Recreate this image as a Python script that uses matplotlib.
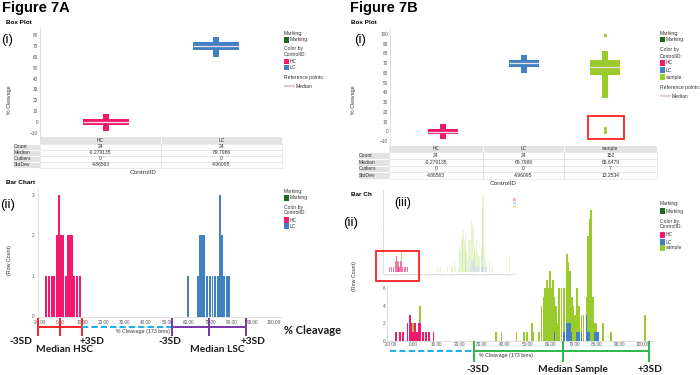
import matplotlib
matplotlib.use('Agg')
import matplotlib.pyplot as plt
from matplotlib.patches import Rectangle
from matplotlib.colors import to_rgba

plt.rcParams['font.family'] = ['Liberation Sans', 'DejaVu Sans']

# ---------------- data ----------------
categories_a = ['HC', 'LC']
categories_b = ['HC', 'LC', 'sample']
box_q1 = [-2.6, 65.8, 58.0]
box_med = [-0.279135, 69.7986, 65.6479]
box_q3 = [2.8, 73.8, 73.5]
box_lo = [-8.3, 59.6, 34.7]
box_hi = [7.8, 78.2, 83.0]
sample_outliers = [99.4, 99.4, 99.4, 3.8, 3.1, 0.6, -0.2]

table_rows = ['Count', 'Median', 'Outliers', 'StdDev']
table_hc = ['24', '-0.279135', '0', '4.86563']
table_lc = ['24', '69.7986', '0', '4.96095']
table_sample = ['152', '65.6479', '7', '13.2534']

x_ticks = [-10, 0, 10, 20, 30, 40, 50, 60, 70, 80, 90, 100]

# Figure 7A bar chart (bin centre, row count)
hc_a_x = [-7.0, -5.45, -3.9, -2.95, -1.85, -0.6, 0.17, 1.25, 2.4, 3.6, 4.4, 5.2, 6.25, 7.5, 9.1]
hc_a_n = [1, 1, 1, 1, 2, 3, 2, 2, 1, 2, 2, 2, 1, 1, 1]
lc_a_x = [59.8, 64.5, 65.3, 66.4, 67.3, 68.4, 70.0, 71.1, 72.3, 73.9, 74.7, 75.5, 76.6, 77.8, 78.7]
lc_a_n = [1, 1, 2, 2, 2, 1, 1, 1, 1, 1, 3, 2, 1, 1, 1]

# Figure 7B bar chart
hc_b_x = [-7.5, -5.7, -4.2, -2.4, -1.45, -0.7, 0.1, 0.8, 1.6, 2.4, 3.1, 4.35, 5.65, 7.0, 8.9]
hc_b_n = [1, 1, 1, 2, 3, 2, 1, 2, 1, 2, 2, 1, 1, 1, 1]
lc_b_x = [61.5, 65.8, 66.8, 67.5, 68.3, 69.0, 71.4, 72.3, 73.3, 75.5, 76.2, 76.9, 78.8, 79.6, 80.3]
lc_b_n = [1, 1, 2, 2, 2, 1, 1, 1, 1, 3, 1, 1, 1, 1, 1]
s_b_x = [0.1, 3.1, 36.2, 38.5, 45.0, 48.3, 49.4, 51.6, 52.3, 54.9, 55.9, 56.7, 57.4, 58.1,
         58.8, 59.6, 60.3, 60.9, 61.5, 62.2, 62.9, 63.6, 64.6, 65.8, 66.8, 67.5, 68.3, 69.0,
         69.7, 70.4, 71.4, 72.3, 73.3, 74.1, 75.5, 76.2, 76.9, 77.5, 78.1, 78.8, 79.6, 82.7,
         86.0, 100.8]
s_b_n = [1, 2, 1, 1, 1, 1, 1, 2, 1, 1, 4, 5, 6, 7,
         6, 8, 6, 7, 4, 4, 2, 6, 6, 5, 8, 7, 6, 4,
         4, 3, 5, 3, 2, 3, 2, 11, 13, 15, 5, 1, 1, 2,
         1, 3]

# ---------------- style ----------------
HC_C = '#F2186E'
LC_C = '#4281C1'
S_C = '#9ACA2B'
MARK_C = '#1B6A1F'
MED_C = '#F1DDE5'
TXT = '#333333'
TICK = '#555555'
GRID = '#D9D9D9'

W, H = 700, 375
fig = plt.figure(figsize=(7, 3.75), dpi=100)


def px_axes(x0, y0, x1, y1, z=0):
    ax = fig.add_axes([x0 / W, 1 - y1 / H, (x1 - x0) / W, (y1 - y0) / H])
    ax.set_zorder(z)
    return ax


def style(ax, bottom=True, size=3.4, pad=1.5):
    for s in ['top', 'right']:
        ax.spines[s].set_visible(False)
    ax.spines['left'].set_color(GRID)
    ax.spines['left'].set_linewidth(0.6)
    if bottom:
        ax.spines['bottom'].set_color(GRID)
        ax.spines['bottom'].set_linewidth(0.6)
    else:
        ax.spines['bottom'].set_visible(False)
    ax.tick_params(length=0, labelsize=size, colors=TICK, pad=pad)
    ax.set_facecolor('none')


# overlay for text / annotations (pixel coordinates)
ov = fig.add_axes([0, 0, 1, 1])
ov.set_xlim(0, W)
ov.set_ylim(H, 0)
ov.axis('off')
ov.set_zorder(10)

cov = fig.add_axes([0, 0, 1, 1])
cov.set_xlim(0, W)
cov.set_ylim(H, 0)
cov.axis('off')
cov.set_zorder(1)


def T(x, y, s, size=3.6, ha='left', color=TXT, **kw):
    ov.text(x, y, s, fontsize=size, ha=ha, va='center', color=color, **kw)


def L(xs, ys, color, lw=1.4, **kw):
    ov.plot(xs, ys, color=color, lw=lw, solid_capstyle='butt', **kw)


# ---------------- box plots ----------------
def boxplot(ax, idxs, bw, ww):
    for pos, k in enumerate(idxs):
        c = [HC_C, LC_C, S_C][k]
        ax.bar(pos, box_hi[k] - box_lo[k], bottom=box_lo[k], width=ww, color=c, lw=0)
        ax.bar(pos, box_q3[k] - box_q1[k], bottom=box_q1[k], width=bw, color=c, lw=0)
        ax.hlines(box_med[k], pos - bw / 2, pos + bw / 2, color=MED_C, lw=0.9)


bpa = px_axes(40, 28, 282, 137)
boxplot(bpa, [0, 1], 0.42, 0.055)
bpa.set_xlim(-0.6, 1.6)
bpa.set_ylim(-13.7, 86.4)
bpa.set_yticks(range(-10, 81, 10))
bpa.set_xticks([])
style(bpa, bottom=False)

bpb = px_axes(390, 28, 657, 146)
boxplot(bpb, [0, 1, 2], 0.38, 0.065)
bpb.scatter([2] * len(sample_outliers), sample_outliers, s=5, color=S_C, lw=0, zorder=3)
bpb.set_xlim(-0.654, 2.642)
bpb.set_ylim(-15.1, 106.2)
bpb.set_yticks(range(-10, 101, 10))
bpb.set_xticks([])
style(bpb, bottom=False)


# ---------------- tables ----------------
def table(xl0, xl1, edges, yh, hh, rys, rh, headers, cols):
    ov.add_patch(Rectangle((edges[0], yh), edges[-1] - edges[0], hh, fc='#E3E3E3', ec='none'))
    for j, h in enumerate(headers):
        T((edges[j] + edges[j + 1]) / 2, yh + hh / 2, h, ha='center')
        if j > 0:
            L([edges[j], edges[j]], [yh, yh + hh], 'white', lw=0.6)
    for i, r in enumerate(table_rows):
        yc = rys[i]
        ov.add_patch(Rectangle((xl0, yc - rh / 2), xl1 - xl0, rh, fc='#E3E3E3', ec='white', lw=0.6))
        T(xl0 + 1, yc, r)
        for j, col in enumerate(cols):
            ov.add_patch(Rectangle((edges[j], yc - rh / 2), edges[j + 1] - edges[j], rh,
                                   fc='white', ec='#DADADA', lw=0.4))
            T((edges[j] + edges[j + 1]) / 2, yc, col[i], ha='center')


table(13, 40, [40, 161, 282], 137.3, 6.4, [146.7, 152.7, 158.7, 164.7], 6,
      categories_a, [table_hc, table_lc])
table(358, 389, [389, 483, 564, 657], 145.7, 6.3, [155.5, 162.2, 168.9, 175.6], 6.7,
      categories_b, [table_hc, table_lc, table_sample])
T(143, 172.7, 'ControlID', size=4.6, ha='center')
T(503, 183.3, 'ControlID', size=4.6, ha='center')

# ---------------- bar chart 7A ----------------
bca = px_axes(38, 188, 282, 316.5)
bca.bar(hc_a_x, hc_a_n, width=0.85, color=HC_C, lw=0)
bca.bar(lc_a_x, lc_a_n, width=0.85, color=LC_C, lw=0)
bca.set_xlim(-10.6, 103.7)
bca.set_ylim(0, 3.17)
bca.set_yticks([0, 1, 2, 3])
bca.set_xticks(x_ticks, labels=[f'{t:.2f}' for t in x_ticks])
style(bca, pad=2.5)


# ---------------- bar chart 7B ----------------
def draw_stack(ax, w, faded=False):
    bottoms = {}
    for xs, ns, c in [(hc_b_x, hc_b_n, HC_C), (lc_b_x, lc_b_n, LC_C), (s_b_x, s_b_n, S_C)]:
        b = [bottoms.get(round(x, 1), 0) for x in xs]
        if faded:
            cols = [to_rgba(c, 0.6 if x < 15 else 0.22) for x in xs]
        else:
            cols = c
        ax.bar(xs, ns, bottom=b, width=w, color=cols, lw=0)
        for x, n, bb in zip(xs, ns, b):
            bottoms[round(x, 1)] = bb + n


bcb = px_axes(387, 190, 653, 340.7)
draw_stack(bcb, 0.78)
bcb.set_xlim(-11.3, 104.35)
bcb.set_ylim(0, 17.3)
bcb.set_yticks(range(0, 17, 2))
bcb.set_xticks(x_ticks, labels=[f'{t:.2f}' for t in x_ticks])
style(bcb, pad=1.2)

# white cover behind the inset
cov.add_patch(Rectangle((376, 183.5), 144, 101, fc='white', ec='none'))

ins = px_axes(383, 190, 515, 273.6, z=2)
draw_stack(ins, 0.85, faded=True)
ins.set_xlim(-13.6, 106)
ins.set_ylim(-0.3, 15.5)
ins.set_yticks(range(0, 16, 1))
ins.set_xticks(x_ticks, labels=[f'{t:.2f}' for t in x_ticks])
style(ins, size=1.3, pad=0.8)
ins.tick_params(colors='#BBBBBB')
for i, c in enumerate([HC_C, LC_C, S_C]):
    ov.add_patch(Rectangle((513, 198 + i * 3.5), 2.5, 2.5, fc=to_rgba(c, 0.35), ec='none'))

# ---------------- titles / labels ----------------
T(2, 8, 'Figure 7A', size=10.5, weight='bold', color='black')
T(350, 8, 'Figure 7B', size=10.5, weight='bold', color='black')
T(6, 23, 'Box Plot', size=4.6, weight='bold', color='black')
T(351, 22, 'Box Plot', size=4.6, weight='bold', color='black')
T(6, 182, 'Bar Chart', size=4.6, weight='bold', color='black')
T(351, 195, 'Bar Ch', size=4.6, weight='bold', color='black')
T(1, 40, '(i)', size=9.5, color='black')
T(354, 40, '(i)', size=9.5, color='black')
T(0, 205, '(ii)', size=9.5, color='black')
T(343, 223, '(ii)', size=9.5, color='black')
T(394, 203, '(iii)', size=9, color='black')

T(9.5, 100, '% Cleavage', size=3.8, ha='center', rotation=90)
T(354, 100, '% Cleavage', size=3.8, ha='center', rotation=90)
T(9.5, 260, '(Row Count)', size=3.8, ha='center', rotation=90)
T(354.5, 276, '(Row Count)', size=3.8, ha='center', rotation=90)
T(143, 331, '% Cleavage (173 bins)', size=3.8, ha='center')
T(506, 355, '% Cleavage (173 bins)', size=3.8, ha='center')


# ---------------- legends ----------------
def sq(x, y, c):
    ov.add_patch(Rectangle((x, y - 2.6), 5, 5.2, fc=c, ec='none'))


def legend(x, ys, with_sample, with_ref):
    T(x, ys[0], 'Marking:')
    sq(x, ys[1], MARK_C)
    T(x + 6, ys[1], 'Marking')
    T(x, ys[2], 'Color by')
    T(x, ys[3], 'ControlID:')
    names = ['HC', 'LC'] + (['sample'] if with_sample else [])
    colors = [HC_C, LC_C, S_C]
    for i, nm in enumerate(names):
        sq(x, ys[4 + i], colors[i])
        T(x + 6, ys[4 + i], nm)
    if with_ref:
        T(x, ys[-2], 'Reference points:')
        L([x, x + 11], [ys[-1], ys[-1]], '#E2CCD5', lw=1.6)
        T(x + 12, ys[-1], 'Median')


legend(284, [33.5, 40, 48.5, 54.5, 61.5, 67.5, 77, 86], False, True)
legend(284, [192, 198, 207, 213, 220, 226], False, False)
legend(660, [33, 39.5, 50, 56, 63, 70, 77, 87, 96], True, True)
legend(660, [204, 211, 221, 227, 235, 242, 248], True, False)

# ---------------- annotations ----------------
RED = '#FF2020'
CYAN = '#22AEEA'
PURP = '#7A35A8'
GRN = '#2CB84A'
ann = dict(size=7.3, ha='center', weight='bold', family=['Lato', 'DejaVu Sans'], color='#1A1A1A')

for x in [38, 60, 82]:
    L([x, x], [318, 336], RED)
L([38, 82], [327, 327], RED)
L([82, 172], [327, 327], CYAN, lw=1.5, linestyle=(0, (3, 1.5)))
for x in [172, 209, 246]:
    L([x, x], [318, 336], PURP)
L([172, 246], [327, 327], PURP)
T(21, 341, '-3SD', **ann)
T(64, 349, 'Median HSC', **ann)
T(92, 341, '+3SD', **ann)
T(170, 341, '-3SD', **ann)
T(217, 349, 'Median LSC', **ann)
T(253, 341, '+3SD', **ann)
T(313, 330, '% Cleavage', **dict(ann, size=8))

L([390, 474], [351, 351], CYAN, lw=1.5, linestyle=(0, (3, 1.5)))
for x in [474, 563, 649]:
    L([x, x], [341, 362], GRN)
L([474, 649], [351, 351], GRN)
T(478, 369, '-3SD', **ann)
T(573, 369, 'Median Sample', **ann)
T(650, 369, '+3SD', **ann)

ov.add_patch(Rectangle((588, 116), 36, 23, fc='none', ec=RED, lw=1.3))
ov.add_patch(Rectangle((375.5, 251), 43.5, 30, fc='none', ec=RED, lw=1.3))

fig.savefig('out.png', dpi=100)
